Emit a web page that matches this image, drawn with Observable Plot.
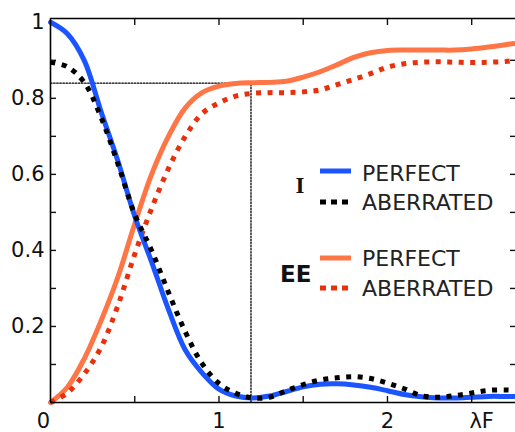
<!DOCTYPE html>
<html><head><meta charset="utf-8">
<script src="https://cdn.jsdelivr.net/npm/d3@7"></script>
<script src="https://cdn.jsdelivr.net/npm/@observablehq/plot@0.6"></script>
<style>body{margin:0;background:#fff;overflow:hidden}</style>
</head><body><div id="chart"></div>
<script>
// radial position in units of lambda*F
const xs = [0,0.1,0.2,0.3,0.4,0.5,0.6,0.7,0.8,0.9,1.0,1.1,1.2,1.3,1.4,1.5,1.6,1.7,1.8,1.9,2.0,2.1,2.2,2.3,2.4,2.5,2.6,2.7,2.75];
// normalized intensity, perfect system
const iPerfect = [1.0,0.97,0.9,0.765,0.635,0.49,0.37,0.245,0.138,0.078,0.035,0.017,0.012,0.017,0.029,0.041,0.048,0.049,0.046,0.04,0.031,0.021,0.015,0.012,0.012,0.014,0.016,0.016,0.016];
// normalized intensity, aberrated system
const iAberrated = [0.895,0.883,0.842,0.75,0.628,0.495,0.4,0.29,0.186,0.102,0.05,0.024,0.012,0.014,0.031,0.047,0.059,0.065,0.068,0.063,0.051,0.036,0.018,0.014,0.018,0.025,0.032,0.033,0.032];
// encircled energy, perfect system
const eePerfect = [0,0.04,0.115,0.215,0.33,0.47,0.6,0.7,0.775,0.815,0.832,0.839,0.841,0.842,0.845,0.856,0.87,0.888,0.908,0.92,0.926,0.927,0.927,0.927,0.927,0.93,0.935,0.941,0.944];
// encircled energy, aberrated system
const eeAberrated = [0,0.025,0.075,0.145,0.255,0.39,0.51,0.615,0.7,0.76,0.788,0.806,0.813,0.815,0.815,0.817,0.822,0.836,0.85,0.865,0.882,0.891,0.895,0.896,0.895,0.894,0.895,0.897,0.9];

// first dark ring guide (EE at first minimum)
const guideX = [0,1.19,1.19];
const guideY = [0.84,0.84,0];

const yMinorTicks = [0.1,0.2,0.3,0.4,0.5,0.6,0.7,0.8,0.9];
const yLabelTicks = [0.2,0.4,0.6,0.8,1];
const yLabels = ["0.2","0.4","0.6","0.8","1"];
const xTicks = [0.5,1,1.5,2,2.5];
const xZeroTick = [0];
const xLabelTicks = [1,2];
const xLabels = ["1","2"];
const xUnitTick = [2.5];
const xUnitLabel = "λF";

const legendGroups = ["I","EE"];
const legendNames = ["PERFECT","ABERRATED"];

const xMax = 2.76, yMax = 1.01;

const rows = (vals) => xs.map((x, i) => ({x, y: vals[i]}));
const guide = guideX.map((x, i) => ({x, y: guideY[i]}));

const colBlue = "#1a55ff", colOrange = "#ff7545", colRed = "#e8300c", colBlack = "#000";

const plot = Plot.plot({
  width: 515, height: 432,
  marginLeft: 50, marginRight: 0, marginTop: 18, marginBottom: 30,
  style: {fontFamily: "DejaVu Sans", fontSize: "21px", background: "#fff", color: "#111"},
  x: {domain: [0, xMax]},
  y: {domain: [0, yMax]},
  marks: [
    Plot.line(guide, {x: "x", y: "y", stroke: "#000", strokeWidth: 1.3, strokeDasharray: "1.5,1.6"}),
    Plot.line(rows(eePerfect), {x: "x", y: "y", stroke: colOrange, strokeWidth: 5, curve: "catmull-rom"}),
    Plot.line(rows(eeAberrated), {x: "x", y: "y", stroke: colRed, strokeWidth: 5, strokeDasharray: "5,6.5", strokeLinecap: "butt", curve: "catmull-rom"}),
    Plot.line(rows(iPerfect), {x: "x", y: "y", stroke: colBlue, strokeWidth: 5, curve: "catmull-rom"}),
    Plot.line(rows(iAberrated), {x: "x", y: "y", stroke: colBlack, strokeWidth: 5, strokeDasharray: "5,6.5", strokeLinecap: "butt", curve: "catmull-rom"}),
    Plot.ruleX([0], {stroke: "#000", strokeWidth: 1.6}),
    Plot.ruleY([0, yMax], {stroke: "#000", strokeWidth: 1.6}),
    Plot.axisY({ticks: yMinorTicks, anchor: "left", tickSize: -6, tickFormat: () => "", label: null, strokeWidth: 1.4}),
    Plot.axisY({ticks: yMinorTicks, anchor: "right", tickSize: -6, tickFormat: () => "", label: null, strokeWidth: 1.4}),
    Plot.axisY({ticks: yLabelTicks, anchor: "left", tickSize: 0, tickPadding: 6, tickFormat: (d, i) => yLabels[i], label: null, fontSize: 21}),
    Plot.axisX({ticks: xTicks, anchor: "top", tickSize: -6, tickFormat: () => "", label: null, strokeWidth: 1.4}),
    Plot.axisX({ticks: xTicks, anchor: "bottom", tickSize: -6, tickFormat: () => "", label: null, strokeWidth: 1.4}),
    Plot.axisX({ticks: xZeroTick, anchor: "bottom", tickSize: 0, tickPadding: 11, dx: -7, tickFormat: () => "0", label: null, fontSize: 21}),
    Plot.axisX({ticks: xLabelTicks, anchor: "bottom", tickSize: 0, tickPadding: 11, tickFormat: (d, i) => xLabels[i], label: null, fontSize: 21}),
    Plot.axisX({ticks: xUnitTick, anchor: "bottom", tickSize: 0, tickPadding: 11, dx: 10, tickFormat: () => xUnitLabel, label: null, fontSize: 21})
  ]
});
document.getElementById("chart").appendChild(plot);

// in-plot legend (layout in pixels)
const svg = d3.select(plot);
const lg = svg.append("g").attr("font-family", "DejaVu Sans").attr("font-size", 22)
  .attr("fill", "#222").attr("text-anchor", "start");
const items = [
  {group: 0, name: 0, color: colBlue, dash: null, ly: 171, ty: 181},
  {group: 0, name: 1, color: colBlack, dash: "6,5", ly: 202, ty: 210},
  {group: 1, name: 0, color: colOrange, dash: null, ly: 258, ty: 266},
  {group: 1, name: 1, color: colRed, dash: "6,5", ly: 288, ty: 296}
];
for (const it of items) {
  lg.append("line").attr("x1", 320).attr("x2", 351).attr("y1", it.ly).attr("y2", it.ly)
    .attr("stroke", it.color).attr("stroke-width", 5).attr("stroke-dasharray", it.dash);
  lg.append("text").attr("x", 362).attr("y", it.ty).attr("text-anchor", "start").text(legendNames[it.name]);
}
lg.append("text").attr("x", 300).attr("y", 193).attr("text-anchor", "middle")
  .attr("font-family", "Liberation Serif").attr("font-weight", "bold").attr("font-size", 23).attr("fill", "#111")
  .text(legendGroups[0]);
lg.append("text").attr("x", 280).attr("y", 282).attr("text-anchor", "start")
  .attr("font-family", "DejaVu Sans").attr("font-weight", "bold").attr("font-size", 23).attr("fill", "#111")
  .text(legendGroups[1]);
</script>
</body></html>
